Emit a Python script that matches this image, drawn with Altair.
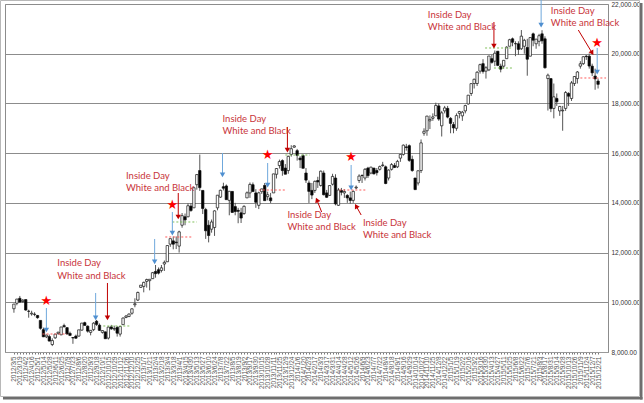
import json
import altair as alt
import pandas as pd

# ---------------- data (weekly candles) ----------------
weeks = [
    "2012/3/5", "2012/3/12", "2012/3/19", "2012/3/26", "2012/4/2", "2012/4/9", "2012/4/16", "2012/4/23",
    "2012/5/1", "2012/5/7", "2012/5/14", "2012/5/21", "2012/5/28", "2012/6/4", "2012/6/11", "2012/6/18",
    "2012/6/25", "2012/7/2", "2012/7/9", "2012/7/17", "2012/7/23", "2012/7/30", "2012/8/6", "2012/8/13",
    "2012/8/20", "2012/8/27", "2012/9/3", "2012/9/10", "2012/9/18", "2012/9/24", "2012/10/1", "2012/10/9",
    "2012/10/15", "2012/10/22", "2012/10/29", "2012/11/5", "2012/11/12", "2012/11/19", "2012/11/26",
    "2012/12/3", "2012/12/10", "2012/12/17", "2012/12/25",
    "2013/1/4", "2013/1/7", "2013/1/15", "2013/1/21", "2013/1/28", "2013/2/4", "2013/2/12", "2013/2/18",
    "2013/2/25", "2013/3/4", "2013/3/11", "2013/3/18", "2013/3/25", "2013/4/1", "2013/4/8", "2013/4/15",
    "2013/4/22", "2013/4/30", "2013/5/7", "2013/5/13", "2013/5/20", "2013/5/27", "2013/6/3", "2013/6/10",
    "2013/6/17", "2013/6/24", "2013/7/1", "2013/7/8", "2013/7/16", "2013/7/22", "2013/7/29", "2013/8/5",
    "2013/8/12", "2013/8/19", "2013/8/26", "2013/9/2", "2013/9/9", "2013/9/17", "2013/9/24", "2013/9/30",
    "2013/10/7", "2013/10/15", "2013/10/21", "2013/10/28", "2013/11/5", "2013/11/11", "2013/11/18",
    "2013/11/25", "2013/12/2", "2013/12/9", "2013/12/16", "2013/12/24", "2013/12/30",
    "2014/1/6", "2014/1/14", "2014/1/20", "2014/1/27", "2014/2/3", "2014/2/10", "2014/2/17", "2014/2/24",
    "2014/3/3", "2014/3/10", "2014/3/17", "2014/3/24", "2014/3/31", "2014/4/7", "2014/4/14", "2014/4/21",
    "2014/4/28", "2014/5/7", "2014/5/12", "2014/5/19", "2014/5/26", "2014/6/2", "2014/6/9", "2014/6/16",
    "2014/6/23", "2014/6/30", "2014/7/7", "2014/7/14", "2014/7/22", "2014/7/28", "2014/8/4", "2014/8/11",
    "2014/8/18", "2014/8/25", "2014/9/1", "2014/9/8", "2014/9/16", "2014/9/22", "2014/9/29", "2014/10/6",
    "2014/10/14", "2014/10/20", "2014/10/27", "2014/11/4", "2014/11/10", "2014/11/17", "2014/11/25",
    "2014/12/1", "2014/12/8", "2014/12/15", "2014/12/22", "2014/12/29",
    "2015/1/5", "2015/1/13", "2015/1/19", "2015/1/26", "2015/2/2", "2015/2/9", "2015/2/16", "2015/2/23",
    "2015/3/2", "2015/3/9", "2015/3/16", "2015/3/23", "2015/3/30", "2015/4/6", "2015/4/13", "2015/4/20",
    "2015/4/27", "2015/5/7", "2015/5/11", "2015/5/18", "2015/5/25", "2015/6/1", "2015/6/8", "2015/6/15",
    "2015/6/22", "2015/6/29", "2015/7/6", "2015/7/13", "2015/7/21", "2015/7/27", "2015/8/3", "2015/8/10",
    "2015/8/17", "2015/8/24", "2015/8/31", "2015/9/7", "2015/9/14", "2015/9/24", "2015/9/28", "2015/10/5",
    "2015/10/13", "2015/10/19", "2015/10/26", "2015/11/2", "2015/11/9", "2015/11/16", "2015/11/24",
    "2015/11/30", "2015/12/7", "2015/12/14", "2015/12/21",
]

opens = [
    9740, 9960, 10160, 10030, 10110, 9640, 9530, 9510, 9470, 9270,
    8900, 8610, 8620, 8300, 8570, 8750, 8690, 9060, 8980, 8750,
    8580, 8640, 8640, 8880, 9180, 9040, 8790, 8900, 9240, 9080,
    8790, 8810, 8560, 9010, 8920, 8990, 8720, 9100, 9390, 9430,
    9560, 9900, 10090, 10600, 10640, 10840, 10870, 10950, 11240, 11310,
    11280, 11540, 11630, 12340, 12470, 12420, 12260, 13100, 13440, 13440,
    13870, 13800, 14730, 15300, 14500, 13730, 13100, 12940, 13010, 13800,
    14230, 14650, 14680, 14100, 14460, 13850, 13700, 13600, 13570, 14200,
    14400, 14730, 14400, 13900, 14450, 14700, 14250, 14200, 14400, 15150,
    15500, 15700, 15400, 15300, 15950, 16240, 16100, 15800, 15900, 15200,
    14800, 14500, 14500, 14900, 14700, 15200, 14400, 14300, 14750, 15000,
    13900, 14500, 14400, 14300, 14200, 14100, 14600, 14900, 15100, 15000,
    15400, 15200, 15400, 15300, 15350, 15500, 15450, 15000, 15350, 15500,
    15450, 15800, 15950, 16250, 16300, 15750, 15000, 14800, 15300, 16800,
    16900, 17300, 17400, 17500, 17900, 17100, 17700, 17800, 17400, 17150,
    17000, 17600, 17500, 17700, 17980, 18400, 18800, 18800, 19300, 19600,
    19300, 19350, 19800, 19700, 20100, 19500, 19500, 19800, 20300, 20600,
    20400, 20400, 20200, 20300, 20250, 19900, 20800, 20400, 20500, 20800,
    20600, 19000, 19000, 17800, 18200, 17700, 17700, 17800, 18400, 18200,
    18800, 19000, 19500, 19600, 19900, 19900, 19500, 19100, 18900,
]

highs = [
    9930, 10137, 10255, 10130, 10110, 9700, 9660, 9600, 9490, 9270,
    8980, 8700, 8700, 8550, 8720, 8810, 9010, 9140, 8990, 8820,
    8600, 8700, 8890, 9170, 9220, 9070, 8880, 9200, 9290, 9150,
    8880, 8820, 9030, 9090, 9060, 9040, 9030, 9390, 9490, 9550,
    9760, 10160, 10430, 10690, 10830, 10950, 10930, 11220, 11500, 11400,
    11500, 11680, 12290, 12560, 12650, 12650, 12880, 13590, 13570, 13980,
    13990, 14650, 15150, 15942, 14500, 13800, 13300, 13330, 13700, 14310,
    14530, 14810, 14740, 14470, 14470, 14000, 13800, 13800, 13900, 14460,
    14820, 14820, 14550, 14450, 14570, 14800, 14450, 14400, 15170, 15400,
    15740, 15750, 15560, 15900, 16320, 16320, 16170, 15880, 15950, 15400,
    14900, 14800, 14900, 15050, 15300, 15300, 14520, 14700, 15170, 15150,
    14600, 14600, 14550, 14350, 14450, 14500, 14700, 15150, 15150, 15400,
    15450, 15450, 15400, 15400, 15500, 15650, 15500, 15350, 15600, 15600,
    15730, 15950, 16350, 16374, 16350, 15900, 15000, 15300, 16550, 17000,
    17500, 17520, 17600, 18030, 18000, 17700, 17900, 17900, 17450, 17250,
    17600, 17700, 17700, 17950, 18340, 18800, 19000, 19300, 19600, 19780,
    19500, 19910, 19960, 20130, 20100, 19600, 19750, 20300, 20600, 20650,
    20500, 20500, 20952, 20600, 20600, 20650, 20850, 20600, 20800, 20946,
    20700, 19200, 19000, 18800, 18400, 17900, 17900, 18500, 18450, 18900,
    19100, 19300, 19700, 19900, 19950, 20012, 19600, 19400, 19000,
]

lows = [
    9580, 9880, 9980, 9980, 9660, 9380, 9460, 9440, 9340, 8900,
    8600, 8560, 8430, 8238, 8530, 8690, 8680, 8980, 8700, 8640,
    8330, 8530, 8620, 8860, 9060, 8780, 8670, 8840, 9050, 8850,
    8740, 8530, 8500, 8890, 8850, 8620, 8620, 9090, 9360, 9400,
    9500, 9800, 10050, 10580, 10400, 10590, 10480, 10940, 10990, 11120,
    11200, 11260, 11620, 12230, 12130, 12140, 12000, 13000, 13100, 13420,
    13640, 13800, 14530, 14480, 13550, 12550, 12410, 12800, 12670, 13700,
    14200, 14500, 14120, 13500, 13600, 13500, 13180, 13190, 13520, 14200,
    14200, 14450, 13800, 13750, 14360, 14080, 14100, 13990, 14400, 14980,
    15380, 15090, 15150, 15170, 15860, 16220, 15700, 15400, 15390, 14800,
    13995, 14150, 14400, 14600, 14650, 14300, 14200, 14280, 14700, 13900,
    13880, 14300, 14200, 14000, 13964, 14000, 14550, 14800, 14800, 14900,
    15000, 15150, 15150, 15100, 15300, 15450, 14750, 14900, 15300, 15400,
    15400, 15650, 15900, 16100, 15650, 15250, 14529, 14700, 15200, 16700,
    16700, 16970, 17300, 17500, 17300, 16670, 17600, 17400, 16800, 16800,
    16900, 17400, 17300, 17600, 17950, 18300, 18600, 18700, 19200, 19200,
    19000, 19300, 19600, 19500, 19500, 19250, 19400, 19800, 20300, 20300,
    19900, 19950, 20150, 20000, 19115, 19900, 20300, 20200, 20300, 20400,
    19400, 17714, 17650, 17400, 17900, 17500, 16901, 17700, 17900, 18100,
    18700, 18800, 19400, 19550, 19750, 19400, 19100, 18550, 18600,
]

closes = [
    9929, 10129, 10011, 10083, 9688, 9637, 9561, 9520, 9380, 8953,
    8611, 8680, 8440, 8459, 8721, 8798, 9006, 9020, 8724, 8669,
    8566, 8555, 8891, 9162, 9070, 8839, 8871, 9159, 9110, 8870,
    8863, 8534, 9002, 8933, 8946, 8757, 9024, 9366, 9446, 9527,
    9737, 9940, 10395, 10688, 10801, 10913, 10926, 11191, 11153, 11173,
    11385, 11606, 12283, 12560, 12338, 12397, 12833, 13485, 13316, 13884,
    13694, 14607, 15138, 14612, 13774, 12877, 12686, 13230, 13677, 14309,
    14506, 14589, 14129, 14466, 13615, 13650, 13660, 13389, 13860, 14404,
    14742, 14455, 14024, 14404, 14561, 14088, 14327, 14086, 15165, 15381,
    15661, 15299, 15152, 15870, 16178, 16291, 15912, 15734, 15391, 14914,
    14462, 14313, 14865, 14841, 15274, 14327, 14224, 14696, 15063, 13960,
    14516, 14429, 14458, 14199, 14096, 14462, 14632, 15077, 15097, 15349,
    15095, 15437, 15164, 15215, 15457, 15523, 14778, 15318, 15539, 15424,
    15668, 15948, 16321, 16229, 15708, 15300, 14532, 15291, 16413, 16880,
    17490, 17357, 17459, 17920, 17371, 17621, 17818, 17450, 17197, 17014,
    17511, 17674, 17648, 17913, 18332, 18797, 18971, 19254, 19560, 19286,
    19435, 19908, 19652, 20020, 19531, 19379, 19733, 20264, 20563, 20460,
    20407, 20174, 20706, 20539, 19779, 20650, 20544, 20585, 20724, 20519,
    19435, 19136, 17792, 18264, 18070, 17880, 17725, 18438, 18291, 18825,
    19083, 19265, 19596, 19879, 19883, 19504, 19230, 18986, 18769,
]

tick_labels = weeks[::2]
y_ticks = [8000, 10000, 12000, 14000, 16000, 18000, 20000, 22000]

# ---------------- annotations (week index, price) ----------------
note_text = ["Inside Day", "White and Black"] * 7
note_i = [14.7, 14.7, 38, 38, 70.7, 70.7, 92.7, 92.7, 118.3, 118.3, 140.3, 140.3, 182, 182]
note_v = [11580, 11057, 15080, 14597, 17374, 16891, 13511, 13029, 13189, 12707,
          21557, 21075, 21718, 21236]

star_i = [11, 53.7, 86, 114.3, 197.7]
star_v = [10052, 13914, 15925, 15845, 20431]

blue_i = [11, 27.7, 47.7, 53.7, 70.7, 86, 114.3, 178.7, 197.7]
blue_from = [9770, 10374, 12546, 13632, 16006, 15603, 15523, 22161, 20230]
blue_to = [8885, 9368, 11621, 12787, 15121, 14718, 14598, 21155, 19264]

red_i1 = [31.7, 55.7, 92.7, 104.3, 117.7, 162.7, 191.3]
red_v1 = [10776, 14396, 17052, 13632, 13511, 21276, 20954]
red_i2 = [31.7, 55.7, 92.7, 102.7, 116, 162.7, 196]
red_v2 = [9368, 13431, 16126, 14115, 13873, 20310, 20029]
red_head_angle = [180, 180, 180, 337, 331, 180, 149]

dot_i1 = [9.7, 51.3, 83, 110.3, 192, 30.3, 53.7, 92, 159.7, 162.7]
dot_i2 = [18, 60.3, 92, 119.3, 200.7, 39.3, 62, 100.3, 168.7, 169.3]
dot_v = [8724, 12627, 14517, 14517, 19023, 9046, 13230, 15925, 20230, 19425]
dot_kind = ["red"] * 5 + ["green"] * 5

# ---------------- tables ----------------
candles = pd.DataFrame({
    "i": list(range(len(weeks))), "week": weeks,
    "open": opens, "high": highs, "low": lows, "close": closes,
})
notes = pd.DataFrame({"i": note_i, "v": note_v, "t": note_text})
stars = pd.DataFrame({"i": star_i, "v": star_v})
blues = pd.DataFrame({"i": blue_i, "v1": blue_from, "v2": blue_to})
reds = pd.DataFrame({"i1": red_i1, "v1": red_v1, "i2": red_i2, "v2": red_v2, "ang": red_head_angle})
dots = pd.DataFrame({"i1": dot_i1, "i2": dot_i2, "v": dot_v, "kind": dot_kind})
one = pd.DataFrame({"k": [0]})

# ---------------- scales / axes ----------------
x_scale = alt.Scale(domain=[-1.33, 199.67], nice=False, zero=False)
y_scale = alt.Scale(domain=[8000, 22000], nice=False, zero=False)

label_expr = ("datum.value % 2 == 0 ? " + json.dumps(tick_labels) +
              "[datum.value / 2] : ''")
x_axis = alt.Axis(values=list(range(len(weeks))), labelExpr=label_expr, labelAngle=270,
                  labelAlign="right", labelBaseline="middle", labelFontSize=6.5,
                  labelColor="#555555", labelOverlap=False, labelFlush=False, labelPadding=2,
                  tickSize=2, tickColor="#777777", domainColor="#999999", grid=False, title=None,
                  labelFont="Liberation Sans")
y_axis = alt.Axis(values=y_ticks, format=",.2f", orient="right", grid=True, gridColor="#8c8c8c",
                  gridWidth=1, domain=False, ticks=False, labelPadding=3, labelFontSize=6.5,
                  labelColor="#333333", title=None, labelFont="Liberation Sans")


def X(field):
    return alt.X(field, type="quantitative", scale=x_scale, axis=x_axis)


def Y(field):
    return alt.Y(field, type="quantitative", scale=y_scale, axis=y_axis)


# ---------------- layers ----------------
frame = alt.Chart(one).mark_rect(filled=False, color="#b8b8b8", strokeWidth=1).encode(
    x=alt.value(-4.5), x2=alt.value(634.5), y=alt.value(-3.5), y2=alt.value(392.5))
shadow_r = alt.Chart(one).mark_rect(color="#6e6e6e").encode(
    x=alt.value(635), x2=alt.value(637.5), y=alt.value(-1), y2=alt.value(395.5))
shadow_b = alt.Chart(one).mark_rect(color="#6e6e6e").encode(
    x=alt.value(-2), x2=alt.value(637.5), y=alt.value(393), y2=alt.value(395.5))

wicks = alt.Chart(candles).mark_rule(color="#555555", strokeWidth=1).encode(
    x=X("i"), y=Y("low"), y2="high")
bodies = alt.Chart(candles).mark_bar(size=2.4, stroke="#111111", strokeWidth=0.7).encode(
    x=X("i"), y=Y("open"), y2="close",
    fill=alt.condition("datum.close >= datum.open", alt.value("white"), alt.value("black")))

dotted = alt.Chart(dots).mark_rule(strokeDash=[2, 2], strokeWidth=1).encode(
    x=X("i1"), x2="i2", y=Y("v"),
    color=alt.Color("kind:N", scale=alt.Scale(domain=["red", "green"], range=["#ff5a5a", "#7fbf5a"]),
                    legend=None))

blue_lines = alt.Chart(blues).mark_rule(color="#6fa8dc", strokeWidth=1).encode(
    x=X("i"), y=Y("v1"), y2="v2")
blue_heads = alt.Chart(blues).mark_point(shape="triangle-down", filled=True, size=30,
                                          color="#4f8fd0", opacity=1).encode(x=X("i"), y=Y("v2"))

red_lines = alt.Chart(reds).mark_rule(color="#c00000", strokeWidth=1).encode(
    x=X("i1"), y=Y("v1"), x2="i2", y2="v2")
red_heads = alt.Chart(reds).mark_point(shape="triangle-up", filled=True, size=30,
                                        color="#c00000", opacity=1).encode(
    x=X("i2"), y=Y("v2"), angle=alt.Angle("ang:Q", scale=None))

star_marks = alt.Chart(stars).mark_text(text="★", fontSize=13, color="#ff0000",
                                        font="DejaVu Sans").encode(x=X("i"), y=Y("v"))

note_marks = alt.Chart(notes).mark_text(align="left", baseline="middle", fontSize=9.5,
                                        color="#c8343a", font="Lato").encode(
    x=X("i"), y=Y("v"), text="t:N")

chart = alt.layer(
    frame, shadow_r, shadow_b, wicks, bodies, dotted, blue_lines, blue_heads,
    red_lines, red_heads, star_marks, note_marks
).properties(
    width=603, height=348,
    autosize=alt.AutoSizeParams(type="none"),
    padding={"left": 5, "top": 4, "right": 36, "bottom": 51},
    background="white",
).configure_view(stroke="#8c8c8c", strokeWidth=1)

chart.save("out.html", embed_options={"renderer": "svg", "actions": False})
